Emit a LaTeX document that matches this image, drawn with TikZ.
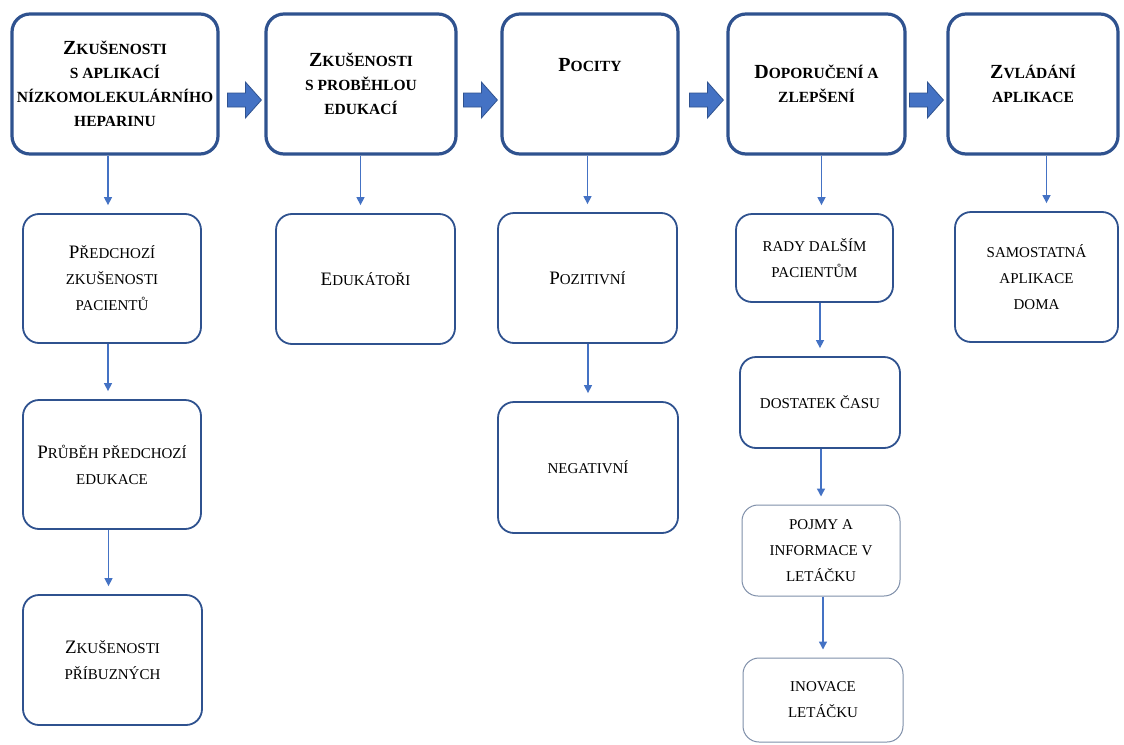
\documentclass[tikz,border=0pt]{standalone}
\usepackage{fontspec}
\setmainfont{Liberation Serif}
\usetikzlibrary{arrows.meta}

\definecolor{ramec}{HTML}{2F528F}
\definecolor{sipka}{HTML}{4472C4}
\definecolor{svetly}{HTML}{7F8FA9}

% velke pocatecni pismeno (kapitalky)
\newcommand{\velke}[1]{{\fontsize{20pt}{24pt}\selectfont #1}}
\newcommand{\velka}[1]{{\fontsize{19pt}{26pt}\selectfont #1}}

\begin{document}
\begin{tikzpicture}[x=1pt, y=-1pt,
    hlavni/.style={draw=ramec, line width=3.2pt, rounded corners=18pt, minimum height=140pt,
        align=center, inner sep=2pt, font=\bfseries\fontsize{15.5pt}{24pt}\selectfont},
    dilci/.style={draw=ramec, line width=1.8pt, rounded corners=16pt,
        align=center, inner sep=2pt, font=\fontsize{15pt}{26pt}\selectfont},
    slabe/.style={dilci, draw=svetly, line width=1pt},
    tok/.style={draw=sipka, line width=1.4pt, -{Triangle[width=8pt,length=8pt]}, shorten >=8pt},
    blok/.style={fill=sipka, draw=ramec, line width=0.8pt, line join=miter}]
    \useasboundingbox[fill=white] (0,0) rectangle (1124,744);

    % Hlavni temata
    \node[hlavni, minimum width=206pt] (top1) at (115,84) {\velke{Z}KUŠENOSTI\\S APLIKACÍ\\NÍZKOMOLEKULÁRNÍHO\\HEPARINU};
    \node[hlavni, minimum width=190pt] (top2) at (361,84) {\velke{Z}KUŠENOSTI\\S PROBĚHLOU\\EDUKACÍ};
    \node[hlavni, minimum width=176pt] (top3) at (590,84) {\velke{P}OCITY\\[14pt]\mbox{}};
    \node[hlavni, minimum width=177pt] (top4) at (816.5,84) {\velke{D}OPORUČENÍ A\\ZLEPŠENÍ};
    \node[hlavni, minimum width=170pt] (top5) at (1033,84) {\velke{Z}VLÁDÁNÍ\\APLIKACE};

    \foreach \b in {top2,top3,top4,top5}
        \draw[blok] ([xshift=-37pt,yshift=-9pt]\b.west) -- ++(18pt,0pt) -- ++(0pt,11pt)
            -- ++(16pt,-18pt) -- ++(-16pt,-18pt) -- ++(0pt,11pt) -- ++(-18pt,0pt) -- cycle;

    % Podtemata
    \node[dilci, minimum width=178pt, minimum height=129pt] (pre) at (112,278.5) {\velka{P}ŘEDCHOZÍ\\ZKUŠENOSTI\\PACIENTŮ};
    \node[dilci, minimum width=178pt, minimum height=129pt] (pru) at (112,464.5) {\velka{P}RŮBĚH PŘEDCHOZÍ\\EDUKACE};
    \node[dilci, minimum width=179pt, minimum height=130pt] (pri) at (112.5,660) {\velka{Z}KUŠENOSTI\\PŘÍBUZNÝCH};

    \node[dilci, minimum width=179pt, minimum height=130pt] (edu) at (365.5,279) {\velka{E}DUKÁTOŘI};

    \node[dilci, minimum width=179pt, minimum height=130pt] (poz) at (587.5,278) {\velka{P}OZITIVNÍ};
    \node[dilci, minimum width=180pt, minimum height=131pt] (neg) at (588,467.5) {NEGATIVNÍ};

    \node[dilci, minimum width=157pt, minimum height=88pt] (rady) at (814.5,258) {RADY DALŠÍM\\PACIENTŮM};
    \node[dilci, minimum width=160pt, minimum height=91pt] (dost) at (820,402.5) {DOSTATEK ČASU};
    \node[slabe, minimum width=158pt, minimum height=91pt] (pojmy) at (821,550.5) {POJMY A\\INFORMACE V\\LETÁČKU};
    \node[slabe, minimum width=160pt, minimum height=84pt] (inov) at (823,700) {INOVACE\\LETÁČKU};

    \node[dilci, minimum width=163pt, minimum height=130pt] (sam) at (1036.5,277) {SAMOSTATNÁ\\APLIKACE\\DOMA};

    % Sipky
    \draw[tok] ([xshift=-4pt]pre.north |- top1.south) -- ([xshift=-4pt]pre.north);
    \draw[tok] ([xshift=-4pt]pru.north |- pre.south) -- ([xshift=-4pt]pru.north);
    \draw[tok] ([xshift=-4pt]pri.north |- pru.south) -- ([xshift=-4pt]pri.north);
    \draw[tok] ([xshift=-5pt]edu.north |- top2.south) -- ([xshift=-5pt]edu.north);
    \draw[tok] (poz.north |- top3.south) -- (poz.north);
    \draw[tok] (neg.north |- poz.south) -- (neg.north);
    \draw[tok] ([xshift=7pt]rady.north |- top4.south) -- ([xshift=7pt]rady.north);
    \draw[tok] (dost.north |- rady.south) -- (dost.north);
    \draw[tok] (pojmy.north |- dost.south) -- (pojmy.north);
    \draw[tok] (inov.north |- pojmy.south) -- (inov.north);
    \draw[tok] ([xshift=10pt]sam.north |- top5.south) -- ([xshift=10pt]sam.north);
\end{tikzpicture}
\end{document}
